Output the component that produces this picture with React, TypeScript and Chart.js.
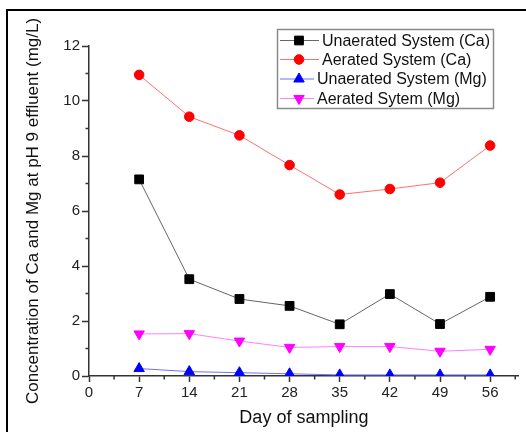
import React, { useEffect, useRef } from 'react';
import { Chart, registerables } from 'chart.js';
import { drawPoint } from 'chart.js/helpers';

Chart.register(...registerables);

const days = [7, 14, 21, 28, 35, 42, 49, 56];
const unaeratedCa = [7.15, 3.52, 2.8, 2.55, 1.88, 2.98, 1.89, 2.88];
const aeratedCa = [10.95, 9.43, 8.75, 7.67, 6.6, 6.8, 7.03, 8.38];
const unaeratedMg = [0.27, 0.16, 0.12, 0.08, 0.04, 0.04, 0.04, 0.04];
const aeratedMg = [1.53, 1.54, 1.27, 1.04, 1.07, 1.07, 0.9, 0.97];
const seriesLabels = [
  'Unaerated System (Ca)',
  'Aerated System (Ca)',
  'Unaerated System (Mg)',
  'Aerated Sytem (Mg)',
];
const xTickValues = [0, 7, 14, 21, 28, 35, 42, 49, 56];
const xMinorTicks = [3.5, 10.5, 17.5, 24.5, 31.5, 38.5, 45.5, 52.5, 59.5];
const yTickValues = [0, 2, 4, 6, 8, 10, 12];
const yMinorTicks = [1, 3, 5, 7, 9, 11];
const xTitle = 'Day of sampling';
const yTitle = 'Concentration of Ca and Mg at pH 9 effluent (mg/L)';

const FONT = '"Liberation Sans", Arial, sans-serif';

const toPoints = (ys: number[]) => days.map((d, i) => ({ x: d, y: ys[i] }));

const framePlugin = {
  id: 'frame',
  beforeDraw(chart: any) {
    const { ctx, width, height } = chart;
    ctx.save();
    ctx.fillStyle = '#ffffff';
    ctx.fillRect(0, 0, width, height);
    ctx.strokeStyle = '#000000';
    ctx.lineWidth = 2;
    ctx.beginPath();
    ctx.moveTo(7, height);
    ctx.lineTo(7, 10);
    ctx.lineTo(width, 10);
    ctx.stroke();
    ctx.restore();
  },
};

const minorTickPlugin = {
  id: 'minorTicks',
  afterDraw(chart: any) {
    const { ctx, scales } = chart;
    const xs = scales.x;
    const ys = scales.y;
    ctx.save();
    ctx.strokeStyle = '#333333';
    ctx.lineWidth = 1.5;
    ctx.beginPath();
    xMinorTicks.forEach((v) => {
      const px = xs.getPixelForValue(v);
      ctx.moveTo(px, ys.bottom);
      ctx.lineTo(px, ys.bottom + 3.5);
    });
    yMinorTicks.forEach((v) => {
      const py = ys.getPixelForValue(v);
      ctx.moveTo(xs.left, py);
      ctx.lineTo(xs.left - 3.5, py);
    });
    ctx.stroke();
    ctx.restore();
  },
};

const legendPlugin = {
  id: 'customLegend',
  afterDraw(chart: any) {
    const { ctx } = chart;
    const boxX = 277.5;
    const boxY = 29.5;
    const boxW = 216;
    const boxH = 79;
    ctx.save();
    ctx.strokeStyle = '#8a8a8a';
    ctx.lineWidth = 1.5;
    ctx.strokeRect(boxX, boxY, boxW, boxH);
    const rows = [40.5, 59.5, 79, 98.5];
    const textX = [322, 322, 317, 317];
    chart.data.datasets.forEach((ds: any, i: number) => {
      const y = rows[i];
      ctx.strokeStyle = ds.borderColor;
      ctx.lineWidth = 1;
      ctx.beginPath();
      ctx.moveTo(280, y);
      ctx.lineTo(textX[i] - 3, y);
      ctx.stroke();
      ctx.fillStyle = ds.pointBackgroundColor;
      ctx.strokeStyle = ds.pointBorderColor;
      drawPoint(
        ctx,
        {
          pointStyle: ds.pointStyle,
          radius: ds.pointRadius,
          rotation: ds.pointRotation || 0,
          borderWidth: 1,
        },
        299,
        y
      );
      ctx.fillStyle = '#111111';
      ctx.font = `16px ${FONT}`;
      ctx.textBaseline = 'middle';
      ctx.textAlign = 'left';
      ctx.fillText(ds.label, textX[i], y + 1);
    });
    ctx.restore();
  },
};

export default function App() {
  const canvasRef = useRef<HTMLCanvasElement | null>(null);

  useEffect(() => {
    if (!canvasRef.current) return;
    const chart = new Chart(canvasRef.current, {
      type: 'line',
      data: {
        datasets: [
          {
            label: seriesLabels[0],
            data: toPoints(unaeratedCa),
            borderColor: '#666666',
            pointBackgroundColor: '#000000',
            pointBorderColor: '#000000',
            pointStyle: 'rect',
            pointRadius: 6.2,
            borderWidth: 1,
          },
          {
            label: seriesLabels[1],
            data: toPoints(aeratedCa),
            borderColor: '#ff7070',
            pointBackgroundColor: '#ff0000',
            pointBorderColor: '#ff0000',
            pointStyle: 'circle',
            pointRadius: 4.8,
            borderWidth: 1,
          },
          {
            label: seriesLabels[2],
            data: toPoints(unaeratedMg),
            borderColor: '#7070ff',
            pointBackgroundColor: '#0000ff',
            pointBorderColor: '#0000ff',
            pointStyle: 'triangle',
            pointRadius: 6,
            borderWidth: 1,
          },
          {
            label: seriesLabels[3],
            data: toPoints(aeratedMg),
            borderColor: '#ff80ff',
            pointBackgroundColor: '#ff00ff',
            pointBorderColor: '#ff00ff',
            pointStyle: 'triangle',
            pointRotation: 180,
            pointRadius: 6,
            borderWidth: 1,
          },
        ] as any,
      },
      options: {
        responsive: false,
        animation: false,
        devicePixelRatio: 1,
        layout: { padding: { top: 46, right: 5, bottom: 0, left: 0 } },
        plugins: {
          legend: { display: false },
          tooltip: { enabled: false },
        },
        elements: { line: { tension: 0 } },
        scales: {
          x: {
            type: 'linear',
            min: 0,
            max: 60,
            afterBuildTicks: (s: any) => {
              s.ticks = xTickValues.map((v) => ({ value: v }));
            },
            afterFit: (s: any) => {
              s.height = 56;
            },
            grid: {
              drawOnChartArea: false,
              drawTicks: true,
              tickLength: 6,
              tickColor: '#333333',
              tickWidth: 1.5,
            },
            border: { color: '#333333', width: 1.5 },
            ticks: {
              color: '#222222',
              font: { family: FONT, size: 15 },
              padding: 2,
              maxRotation: 0,
              autoSkip: false,
            },
            title: {
              display: true,
              text: xTitle,
              color: '#111111',
              font: { family: FONT, size: 18 },
              padding: { top: 0, bottom: 3 },
            },
          },
          y: {
            type: 'linear',
            min: 0,
            max: 12,
            afterBuildTicks: (s: any) => {
              s.ticks = yTickValues.map((v) => ({ value: v }));
            },
            afterFit: (s: any) => {
              s.width = 89;
            },
            grid: {
              drawOnChartArea: false,
              drawTicks: true,
              tickLength: 7,
              tickColor: '#333333',
              tickWidth: 1.5,
            },
            border: { color: '#333333', width: 1.5 },
            ticks: {
              color: '#222222',
              font: { family: FONT, size: 15 },
              padding: 2,
              autoSkip: false,
            },
            title: {
              display: true,
              text: yTitle,
              color: '#111111',
              font: { family: FONT, size: 17 },
              padding: { top: 23, bottom: 0 },
            },
          },
        },
      } as any,
      plugins: [framePlugin, minorTickPlugin, legendPlugin],
    });
    return () => chart.destroy();
  }, []);

  return (
    <div style={{ position: 'absolute', left: 0, top: 0, width: 526, height: 432, background: '#fff' }}>
      <canvas ref={canvasRef} width={526} height={432} style={{ display: 'block' }} />
    </div>
  );
}
